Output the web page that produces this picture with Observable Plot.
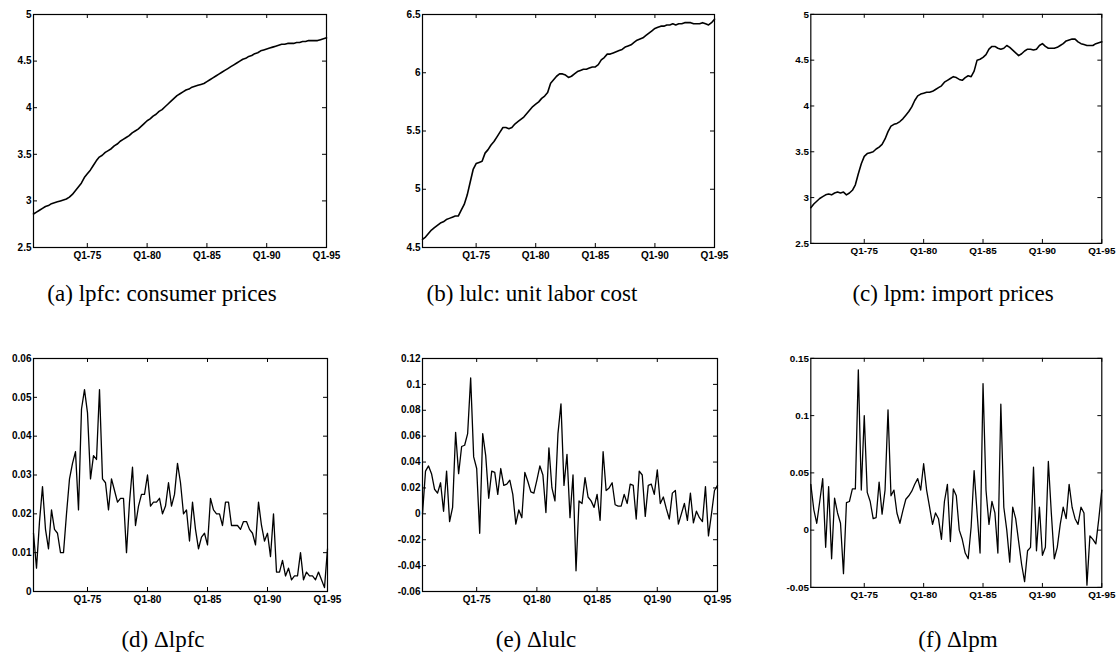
<!DOCTYPE html>
<html><head><meta charset="utf-8">
<script src="https://cdn.jsdelivr.net/npm/d3@7"></script>
<script src="https://cdn.jsdelivr.net/npm/@observablehq/plot@0.6"></script>
<style>
body{margin:0;background:#fff;}
#wrap{position:relative;width:1119px;height:668px;overflow:hidden;background:#fff;}
.panel{position:absolute;}
.cap{position:absolute;font-family:"Liberation Serif","Times New Roman",serif;font-size:23px;line-height:26px;color:#000;white-space:nowrap;transform:translateX(-50%);}
</style></head><body><div id="wrap"></div>
<script>
// Quarterly data, 1970Q3 .. 1995Q1
const startYear = 1970.5;
const xTicks = [1975, 1980, 1985, 1990, 1995];

const lpfc = [2.86,2.88,2.90,2.92,2.94,2.95,2.97,2.98,2.99,3.00,
 3.01,3.02,3.04,3.07,3.11,3.15,3.19,3.25,3.29,3.33,
 3.38,3.43,3.47,3.49,3.52,3.54,3.56,3.59,3.61,3.64,
 3.66,3.68,3.70,3.73,3.75,3.77,3.80,3.83,3.86,3.88,
 3.91,3.93,3.96,3.98,4.01,4.04,4.07,4.10,4.13,4.15,
 4.17,4.19,4.20,4.22,4.23,4.24,4.25,4.26,4.28,4.30,
 4.32,4.34,4.36,4.38,4.40,4.42,4.44,4.46,4.48,4.50,
 4.52,4.53,4.55,4.56,4.58,4.59,4.61,4.62,4.63,4.64,
 4.65,4.66,4.67,4.68,4.68,4.69,4.69,4.69,4.70,4.70,
 4.71,4.71,4.72,4.72,4.72,4.72,4.73,4.74,4.75];

const lulc = [4.57,4.59,4.62,4.65,4.67,4.69,4.71,4.72,4.74,4.75,
 4.76,4.77,4.77,4.82,4.87,4.95,5.06,5.17,5.22,5.23,
 5.24,5.31,5.34,5.38,5.41,5.45,5.49,5.53,5.53,5.52,
 5.53,5.56,5.58,5.60,5.62,5.65,5.68,5.71,5.73,5.75,
 5.78,5.80,5.83,5.91,5.94,5.97,5.99,5.99,5.98,5.96,
 5.97,5.99,6.01,6.02,6.03,6.03,6.04,6.05,6.05,6.07,
 6.11,6.13,6.16,6.16,6.17,6.18,6.19,6.20,6.22,6.23,
 6.24,6.26,6.28,6.29,6.30,6.32,6.34,6.36,6.38,6.39,
 6.40,6.40,6.41,6.41,6.42,6.41,6.42,6.42,6.43,6.43,
 6.43,6.42,6.42,6.42,6.43,6.42,6.41,6.43,6.46];

const lpm = [2.89,2.93,2.96,2.99,3.01,3.03,3.04,3.03,3.05,3.06,
 3.05,3.06,3.03,3.05,3.08,3.14,3.26,3.37,3.45,3.48,
 3.49,3.50,3.53,3.55,3.58,3.64,3.72,3.78,3.80,3.81,
 3.83,3.86,3.90,3.94,3.99,4.06,4.11,4.13,4.14,4.15,
 4.15,4.16,4.18,4.20,4.22,4.26,4.28,4.30,4.32,4.31,
 4.29,4.28,4.31,4.33,4.32,4.38,4.50,4.51,4.53,4.56,
 4.62,4.65,4.65,4.63,4.62,4.63,4.66,4.64,4.61,4.58,
 4.55,4.57,4.60,4.62,4.62,4.61,4.62,4.66,4.68,4.65,
 4.63,4.63,4.63,4.64,4.66,4.68,4.71,4.72,4.73,4.73,
 4.70,4.68,4.67,4.66,4.66,4.66,4.68,4.69,4.70];

const dlpfc = [0.015,0.006,0.018,0.027,0.016,0.011,0.021,0.016,0.015,0.010,
 0.010,0.020,0.029,0.033,0.036,0.021,0.047,0.052,0.046,0.029,
 0.035,0.034,0.052,0.029,0.028,0.021,0.029,0.026,0.023,0.024,
 0.024,0.010,0.023,0.032,0.017,0.022,0.025,0.025,0.030,0.022,
 0.023,0.023,0.024,0.020,0.022,0.028,0.022,0.025,0.033,0.028,
 0.020,0.021,0.013,0.023,0.016,0.011,0.014,0.015,0.012,0.024,
 0.021,0.020,0.020,0.017,0.023,0.023,0.017,0.017,0.017,0.016,
 0.018,0.018,0.016,0.015,0.012,0.023,0.017,0.013,0.015,0.009,
 0.020,0.005,0.005,0.008,0.004,0.006,0.003,0.004,0.004,0.010,
 0.003,0.005,0.004,0.004,0.003,0.005,0.003,0.001,0.011];

const dlulc = [0.000,0.033,0.037,0.031,0.019,0.016,0.024,0.002,0.033,-0.006,
 0.005,0.063,0.031,0.052,0.053,0.062,0.105,0.044,0.035,-0.015,
 0.062,0.045,0.012,0.033,0.032,0.015,0.035,0.022,0.023,0.026,
 0.015,-0.008,0.003,-0.003,0.032,0.025,0.017,0.016,0.026,0.037,
 0.030,0.001,0.051,0.020,0.010,0.062,0.085,0.022,0.046,-0.003,
 0.030,-0.044,0.010,0.008,0.028,0.013,0.010,0.005,0.015,-0.005,
 0.048,0.018,0.020,0.024,0.007,0.006,0.006,0.015,0.008,0.023,
 0.022,-0.004,0.033,0.030,-0.002,0.022,0.023,0.015,0.034,0.008,
 0.013,0.004,-0.004,0.016,0.018,-0.008,0.000,0.008,-0.005,0.016,
 -0.007,0.002,-0.003,-0.006,0.021,-0.017,0.000,0.018,0.022];

const dlpm = [0.040,0.018,0.006,0.025,0.045,-0.015,0.038,-0.025,0.028,0.015,
 0.006,-0.038,0.024,0.025,0.036,0.036,0.140,0.035,0.100,0.033,
 0.025,0.010,0.011,0.042,0.014,0.035,0.105,0.030,0.035,0.015,
 0.006,0.017,0.027,0.030,0.034,0.040,0.045,0.035,0.058,0.035,
 0.020,0.005,0.015,0.010,-0.008,0.025,0.040,-0.010,0.036,0.030,
 0.000,-0.008,-0.020,-0.025,0.003,0.052,0.015,-0.020,0.128,0.035,
 0.005,0.025,0.015,-0.020,0.110,0.020,0.000,-0.028,0.020,0.010,
 -0.010,-0.030,-0.045,-0.018,-0.015,0.055,-0.018,0.020,-0.022,-0.015,
 0.060,0.015,-0.025,-0.015,0.005,0.020,0.010,0.040,0.020,0.010,
 0.005,0.020,0.015,-0.048,-0.005,-0.008,-0.012,0.010,0.035];

const captions = ["(a) lpfc: consumer prices", "(b) lulc: unit labor cost", "(c) lpm: import prices",
                  "(d) \u0394lpfc", "(e) \u0394lulc", "(f) \u0394lpm"];

const yTicksA = [2.5, 3, 3.5, 4, 4.5, 5];
const yTicksB = [4.5, 5, 5.5, 6, 6.5];
const yTicksC = [2.5, 3, 3.5, 4, 4.5, 5];
const yTicksD = [0, 0.01, 0.02, 0.03, 0.04, 0.05, 0.06];
const yTicksE = [-0.06, -0.04, -0.02, 0, 0.02, 0.04, 0.06, 0.08, 0.1, 0.12];
const yTicksF = [-0.05, 0, 0.05, 0.1, 0.15];

const panels = [
  {values: lpfc,  ticks: yTicksA, fx0: 33,  fx1: 326,  fy0: 14,  fy1: 247, sw: 1.6, cx: 162, cy: 294},
  {values: lulc,  ticks: yTicksB, fx0: 422, fx1: 714,  fy0: 14,  fy1: 247, sw: 1.6, cx: 532, cy: 294},
  {values: lpm,   ticks: yTicksC, fx0: 811, fx1: 1107, fy0: 14,  fy1: 247, sw: 1.6, cx: 953, cy: 294},
  {values: dlpfc, ticks: yTicksD, fx0: 33,  fx1: 327,  fy0: 358, fy1: 591, sw: 1.3, cx: 163, cy: 640},
  {values: dlulc, ticks: yTicksE, fx0: 422, fx1: 717,  fy0: 358, fy1: 591, sw: 1.3, cx: 536, cy: 640},
  {values: dlpm,  ticks: yTicksF, fx0: 811, fx1: 1107, fy0: 358, fy1: 591, sw: 1.3, cx: 958, cy: 640}
];

const wrap = document.getElementById("wrap");
const ML = 40, MT = 8, MR = 18, MB = 22, TK = 4;

panels.forEach((p, k) => {
  const W = p.fx1 - p.fx0, H = p.fy1 - p.fy0;
  const data = p.values.map((v, i) => ({t: startYear + i * 0.25, v}));
  const yDom = [p.ticks[0], p.ticks[p.ticks.length - 1]];
  const chart = Plot.plot({
    width: W + ML + MR, height: H + MT + MB,
    marginLeft: ML, marginTop: MT, marginRight: MR, marginBottom: MB,
    x: {domain: [startYear, 1995]},
    y: {domain: yDom},
    style: {fontFamily: "'Liberation Sans', Arial, sans-serif", fontSize: "10px", color: "#000", background: "transparent", overflow: "visible"},
    marks: [
      Plot.line(data, {x: "t", y: "v", stroke: "#000", strokeWidth: p.sw}),
      Plot.ruleX(xTicks, {x: d => d, insetTop: H - TK, stroke: "#000", strokeWidth: 1}),
      Plot.ruleX(xTicks, {x: d => d, insetBottom: H - TK, stroke: "#000", strokeWidth: 1}),
      Plot.ruleY(p.ticks, {y: d => d, insetRight: W - TK, stroke: "#000", strokeWidth: 1}),
      Plot.ruleY(p.ticks, {y: d => d, insetLeft: W - TK, stroke: "#000", strokeWidth: 1}),
      Plot.frame({stroke: "#000", strokeWidth: 1.2}),
      Plot.axisX({ticks: xTicks, tickSize: 0, tickPadding: 4, label: null, fontWeight: "bold", tickFormat: d => "Q1-" + String(d).slice(2)}),
      Plot.axisY({ticks: p.ticks, tickSize: 0, tickPadding: 2, label: null, fontWeight: "bold", tickFormat: d => String(d)})
    ]
  });
  const div = document.createElement("div");
  div.className = "panel";
  div.style.left = (p.fx0 - ML) + "px";
  div.style.top = (p.fy0 - MT) + "px";
  div.appendChild(chart);
  wrap.appendChild(div);

  const cap = document.createElement("div");
  cap.className = "cap";
  cap.textContent = captions[k];
  cap.style.left = p.cx + "px";
  cap.style.top = (p.cy - 13) + "px";
  wrap.appendChild(cap);
});
</script></body></html>
